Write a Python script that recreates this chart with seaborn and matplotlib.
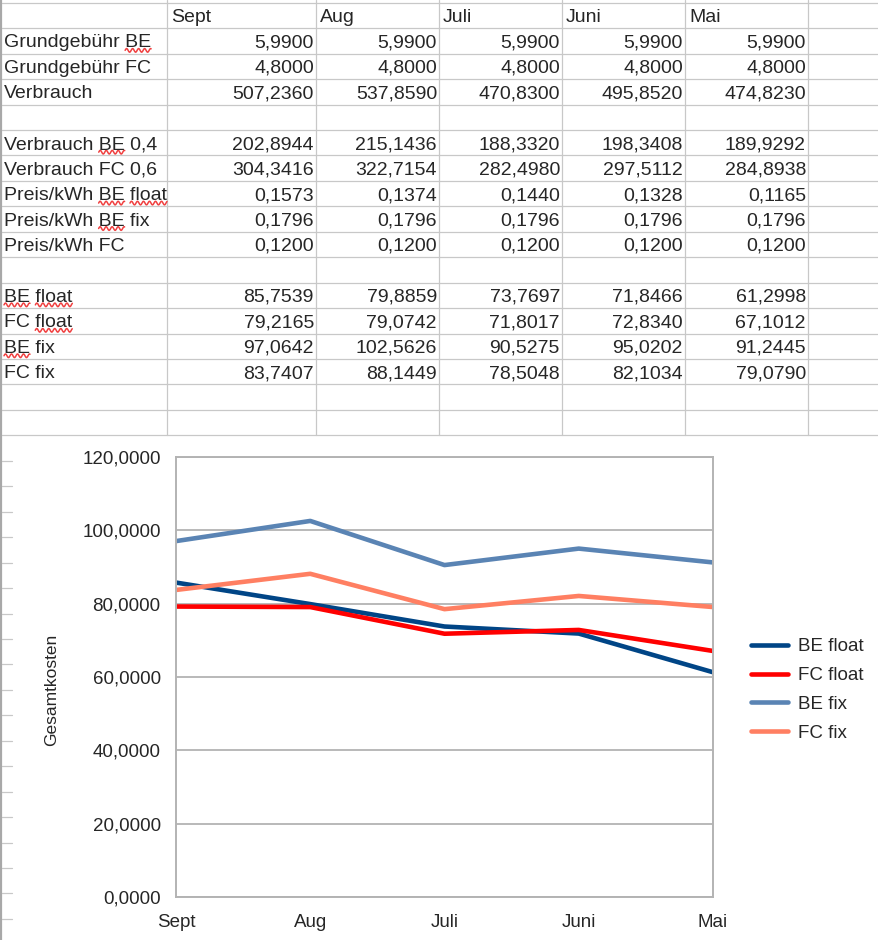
import numpy as np
import pandas as pd
import matplotlib
matplotlib.use("Agg")
import matplotlib.pyplot as plt
from matplotlib.lines import Line2D
import seaborn as sns

months = ["Sept", "Aug", "Juli", "Juni", "Mai"]
grundgebuehr_be = [5.99, 5.99, 5.99, 5.99, 5.99]
grundgebuehr_fc = [4.80, 4.80, 4.80, 4.80, 4.80]
verbrauch = [507.2360, 537.8590, 470.8300, 495.8520, 474.8230]
verbrauch_be = [202.8944, 215.1436, 188.3320, 198.3408, 189.9292]
verbrauch_fc = [304.3416, 322.7154, 282.4980, 297.5112, 284.8938]
preis_be_float = [0.1573, 0.1374, 0.1440, 0.1328, 0.1165]
preis_be_fix = [0.1796, 0.1796, 0.1796, 0.1796, 0.1796]
preis_fc = [0.1200, 0.1200, 0.1200, 0.1200, 0.1200]
be_float = [85.7539, 79.8859, 73.7697, 71.8466, 61.2998]
fc_float = [79.2165, 79.0742, 71.8017, 72.8340, 67.1012]
be_fix = [97.0642, 102.5626, 90.5275, 95.0202, 91.2445]
fc_fix = [83.7407, 88.1449, 78.5048, 82.1034, 79.0790]

series_names = ["BE float", "FC float", "BE fix", "FC fix"]
series_colors = ["#004586", "#ff0000", "#5a84b4", "#ff7f62"]

table_rows = [
    ("Grundgebühr BE", grundgebuehr_be),
    ("Grundgebühr FC", grundgebuehr_fc),
    ("Verbrauch", verbrauch),
    None,
    ("Verbrauch BE 0,4", verbrauch_be),
    ("Verbrauch FC 0,6", verbrauch_fc),
    ("Preis/kWh BE float", preis_be_float),
    ("Preis/kWh BE fix", preis_be_fix),
    ("Preis/kWh FC", preis_fc),
    None,
    ("BE float", be_float),
    ("FC float", fc_float),
    ("BE fix", be_fix),
    ("FC fix", fc_fix),
]
# rot unterkringelte Wörter (Rechtschreibprüfung)
spell_marks = {
    "Grundgebühr BE": ["BE"],
    "Verbrauch BE 0,4": ["BE"],
    "Preis/kWh BE float": ["BE", "float"],
    "Preis/kWh BE fix": ["BE"],
    "BE float": ["BE", "float"],
    "FC float": ["float"],
    "BE fix": ["BE"],
}


def de(v, pos=None):
    return f"{v:.4f}".replace(".", ",")


sns.set_style("white")
plt.rcParams["font.family"] = ["Liberation Sans", "DejaVu Sans"]

W, H = 879, 940
fig = plt.figure(figsize=(W / 100, H / 100), dpi=100)


def fx(x):
    return x / W


def fy(y):
    return 1 - y / H


def hline(x0, x1, y, color="#c8c8c8", lw=0.9):
    fig.add_artist(Line2D([fx(x0), fx(x1)], [fy(y), fy(y)], color=color, lw=lw,
                          transform=fig.transFigure))


def vline(x, y0, y1, color="#c8c8c8", lw=0.9):
    fig.add_artist(Line2D([fx(x), fx(x)], [fy(y0), fy(y1)], color=color, lw=lw,
                          transform=fig.transFigure))


# ---- Tabellenraster ----
row0, rh = 2.7, 25.45
col_edges = [2, 167, 316, 439, 562, 685, 808]
grid_bottom = row0 + 17 * rh
for k in range(37):
    y = row0 + k * rh
    if k <= 17:
        hline(2, W, y)
    else:
        hline(2, 12, y)
for x in col_edges[1:]:
    vline(x, 0, grid_bottom)
vline(1.5, 0, H, color="#a8a8a8", lw=1.6)

fs = 14
ytext = lambda k: row0 + k * rh + rh / 2 + 2
for j, m in enumerate(months):
    fig.text(fx(col_edges[j + 1] + 4), fy(ytext(0)), m, fontsize=fs,
             ha="left", va="center")

label_texts = {}
for i, row in enumerate(table_rows):
    if row is None:
        continue
    label, vals = row
    t = fig.text(fx(4), fy(ytext(i + 1)), label, fontsize=fs, ha="left", va="center")
    label_texts[label] = t
    for j, v in enumerate(vals):
        fig.text(fx(col_edges[j + 2] - 2), fy(ytext(i + 1)), de(v), fontsize=fs,
                 ha="right", va="center")

# Kringel unter den Wörtern
renderer = fig.canvas.get_renderer()
for label, words in spell_marks.items():
    t = label_texts[label]
    bb = t.get_window_extent(renderer)
    for w in words:
        idx = label.index(w)
        tmp = fig.text(fx(4), 0.5, label[:idx + len(w)], fontsize=fs)
        right = bb.x0 + tmp.get_window_extent(renderer).width
        tmp.remove()
        tmp = fig.text(fx(4), 0.5, w, fontsize=fs)
        width = tmp.get_window_extent(renderer).width
        tmp.remove()
        xs = np.linspace(right - width, right, 80)
        base = bb.y0 + 1.0
        ys = base + 1.8 * np.sin((xs - xs[0]) / 6.0 * 2 * np.pi)
        fig.add_artist(Line2D(xs / W, ys / H, color="#f04040", lw=1.1,
                              transform=fig.transFigure))

# ---- Diagramm ----
df = pd.DataFrame({
    "Monat": months * 4,
    "Gesamtkosten": be_float + fc_float + be_fix + fc_fix,
    "Serie": np.repeat(series_names, len(months)),
})

ax = fig.add_axes([fx(176), fy(897), (713 - 176) / W, (897 - 457) / H])
sns.lineplot(data=df, x="Monat", y="Gesamtkosten", hue="Serie",
             hue_order=series_names, palette=series_colors, linewidth=3.3,
             sort=False, ax=ax, legend=True)
ax.set_xlim(0, 4)
ax.set_ylim(0, 120)
ax.set_yticks(np.arange(0, 121, 20))
ax.yaxis.set_major_formatter(matplotlib.ticker.FuncFormatter(de))
ax.grid(axis="y", color="#b3b3b3", lw=1.3)
ax.set_axisbelow(True)
for s in ax.spines.values():
    s.set_visible(True)
    s.set_color("#b3b3b3")
    s.set_linewidth(1.4)
ax.tick_params(axis="both", length=5, width=1.3, color="#b3b3b3",
               labelsize=13.5, direction="out")
ax.tick_params(axis="y", pad=6)
ax.tick_params(axis="x", pad=7)
ax.set_xlabel("")
ax.set_ylabel("")
fig.text(fx(52), fy(690), "Gesamtkosten", rotation=90, fontsize=12.5,
         ha="center", va="center")

ax.legend(loc="center left", bbox_to_anchor=(fx(751), fy(690)),
          bbox_transform=fig.transFigure, frameon=False, fontsize=13.5,
          handlelength=2.0, handletextpad=0.5, labelspacing=0.62,
          borderpad=0, borderaxespad=0)

fig.savefig("out.png", dpi=100, facecolor="white")
